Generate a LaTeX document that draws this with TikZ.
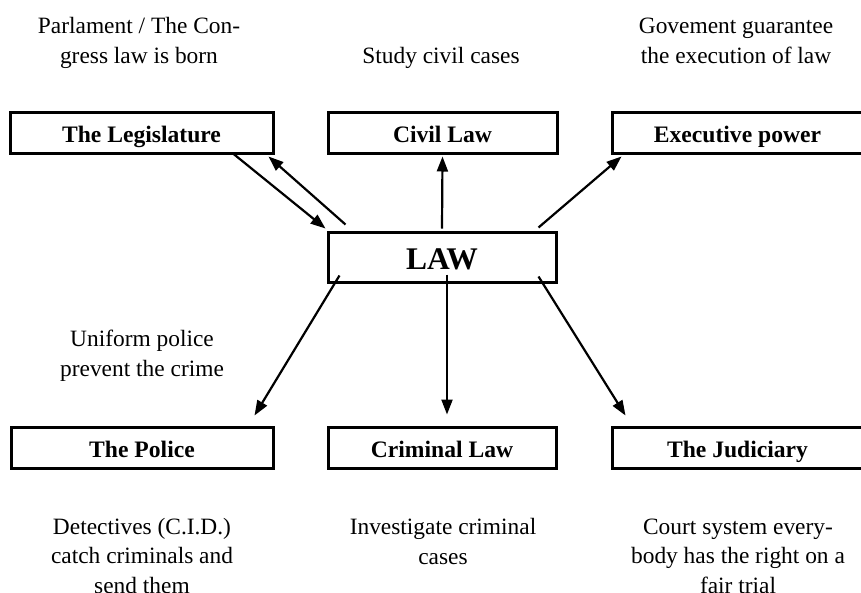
\documentclass[tikz,border=0pt]{standalone}
\usepackage{fontspec}
\setmainfont{Liberation Serif}
\usetikzlibrary{arrows.meta,calc}
\begin{document}
\begin{tikzpicture}[x=1pt,y=-1pt,
  box/.style={draw, line width=3pt, rectangle, minimum height=41pt, inner sep=0pt,
    text height=19pt, text depth=0pt,
    font=\fontsize{23.6}{28}\selectfont\bfseries},
  lawbox/.style={box, minimum height=50pt, text height=25pt, text depth=1pt,
    font=\fontsize{31.5}{36}\selectfont\bfseries},
  note/.style={align=center, anchor=base, inner sep=0pt, font=\fontsize{23.4}{29.5}\selectfont},
  arr/.style={line width=2.2pt, -{Triangle[length=15pt,width=11pt]}}
]
\useasboundingbox (0,0) rectangle (861,592);

% boxes
\node[box, minimum width=263pt] (leg) at (141.5,132.5) {The Legislature};
\node[box, minimum width=229pt] (civ) at (442.5,132.5) {Civil Law};
\node[box, minimum width=251pt] (exe) at (737.5,132.5) {Executive power};
\node[lawbox, minimum width=228pt] (law) at (442,257) {LAW};
\node[box, minimum width=262pt] (pol) at (142,447.5) {The Police};
\node[box, minimum width=228pt] (cri) at (442,447.5) {Criminal Law};
\node[box, minimum width=251pt] (jud) at (737.5,447.5) {The Judiciary};

% notes (anchor = baseline of the last line)
\node[note] (n1) at (139,63) {Parlament / The Con-\\gress law is born};
\node[note] (n2) at (441,63) {Study civil cases};
\node[note] (n3) at (736,63) {Govement guarantee\\the execution of law};
\node[note] (n4) at (142,376) {Uniform police\\prevent the crime};
\node[note] (n5) at (142,593) {Detectives (C.I.D.)\\catch criminals and\\send them};
\node[note] (n6) at (443,564) {Investigate criminal\\cases};
\node[note] (n7) at (738,593) {Court system every-\\body has the right on a\\fair trial};

% connectors
\draw[arr] ($(leg.south)+(91.5,-1)$) -- ($(law.north west)+(-1,-2)$);
\draw[arr] ($(law.north west)+(19,-6)$) -- ($(leg.south east)+(-6,2)$);
\draw[arr] ($(law.north)+(0,-2)$) -- ($(civ.south)+(0,2)$);
\draw[arr] ($(law.north east)+(-19,-3)$) -- ($(exe.south west)+(11,2)$);
\draw[arr] ($(law.south west)+(13,-8)$) -- ($(pol.north east)+(-20,-10)$);
\draw[arr] ($(law.south)+(5,-9)$) -- ($(cri.north)+(5,-11)$);
\draw[arr] ($(law.south east)+(-19,-7)$) -- ($(jud.north west)+(15,-10)$);
\end{tikzpicture}
\end{document}
